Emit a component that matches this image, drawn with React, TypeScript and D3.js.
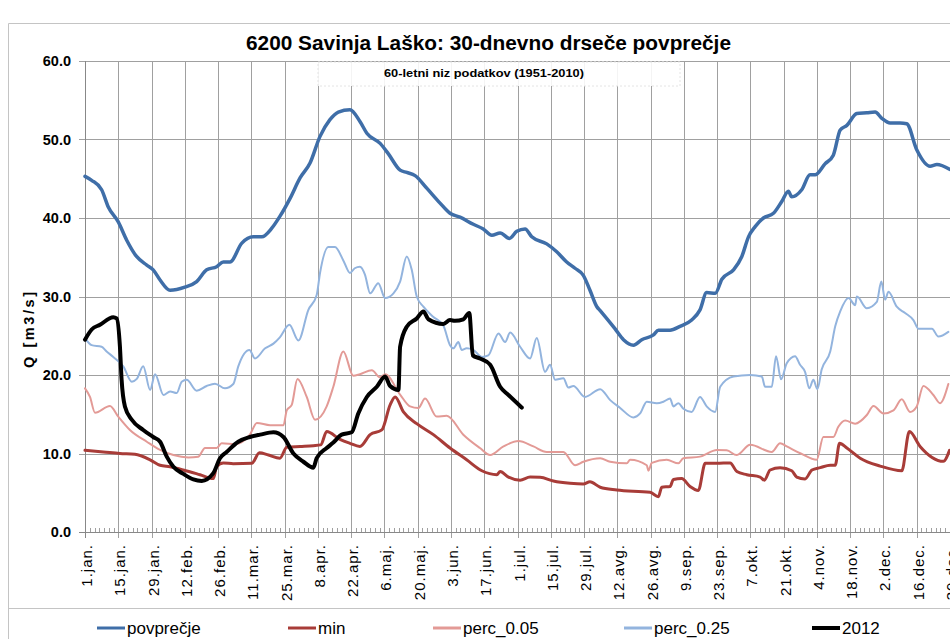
import React from "react";
import * as d3 from "d3";

type Pt = [number, number];

const title = "6200 Savinja Laško: 30-dnevno drseče povprečje";
const subtitle = "60-letni niz podatkov (1951-2010)";
const yTitle = "Q [m3/s]";

const xLabels = [
  "1.jan.", "15.jan.", "29.jan.", "12.feb.", "26.feb.", "11.mar.", "25.mar.",
  "8.apr.", "22.apr.", "6.maj.", "20.maj.", "3.jun.", "17.jun.", "1.jul.",
  "15.jul.", "29.jul.", "12.avg.", "26.avg.", "9.sep.", "23.sep.", "7.okt.",
  "21.okt.", "4.nov.", "18.nov.", "2.dec.", "16.dec.", "30.dec.",
];
const yTicks = [0, 10, 20, 30, 40, 50, 60];

const povprecje: Pt[] = [
  [0,45.3],[2.8,44.8],[7,43.6],[9.8,41.4],[14,39.5],[17.5,37.2],[21.7,35.1],[26,34.0],[28.7,33.4],[31.6,32.1],[35.8,30.8],[42,31.2],[47,31.9],[51.2,33.4],[55.4,33.8],[58.2,34.4],[61,34.4],[66,36.8],[70.8,37.6],[74.4,37.6],[78.6,38.7],[82,40.2],[86.3,42.5],[90.5,45.1],[94.7,47.0],[98.9,50.4],[103,52.5],[106.6,53.5],[111.5,53.8],[115.7,52.3],[118.6,50.8],[124.2,49.5],[127.6,48.2],[132.6,46.1],[135.4,45.8],[138.9,45.4],[143.8,43.8],[149.4,41.9],[153.6,40.6],[157.8,40.1],[163.4,39.2],[167.6,38.6],[171.2,37.8],[174.7,38.1],[178.6,37.4],[181.7,38.3],[185.2,38.6],[188,37.6],[194.3,36.7],[198.5,35.7],[202.7,34.4],[206.2,33.6],[209.7,32.7],[212.5,30.8],[215.4,28.7],[216.8,28.2],[223,25.9],[226.6,24.5],[230.8,23.8],[234.3,24.5],[239.2,25.1],[241.3,25.7],[246.2,25.7],[250.4,26.2],[255.3,27.0],[258.8,28.3],[261.6,30.5],[265.2,30.4],[268,32.2],[272.9,33.4],[276.4,35.1],[279.2,37.6],[282,38.9],[285.5,40.0],[289.7,40.6],[293.2,42.1],[296,43.4],[297.4,42.7],[301.6,43.6],[305.1,45.5],[307.2,45.5],[311.4,46.9],[314.9,48.0],[317.8,51.2],[320.6,51.8],[324.8,53.3],[329,53.4],[332.5,53.5],[335.3,52.7],[338.8,52.1],[343,52.1],[345.8,52.0],[350,48.7],[355.6,46.6],[358.5,46.8],[363.8,46.2],
];

const minimum: Pt[] = [
  [0,10.4],[7.7,10.2],[14.7,10.0],[21,9.9],[27.4,9.2],[31.6,8.5],[35.8,8.3],[41.4,7.9],[48.4,7.3],[54,6.8],[55.4,8.3],[58.2,8.8],[62.4,8.7],[70.2,8.75],[73.4,10.1],[77.2,9.8],[82,9.4],[84.9,10.8],[90.5,10.9],[96.1,11.0],[99.2,11.1],[101.7,12.8],[107.3,11.8],[111.5,11.3],[115.7,10.9],[120,12.4],[124.9,13.0],[128.4,16.2],[130.5,17.2],[134,15.3],[139.6,13.8],[146.6,12.4],[153.6,10.7],[160.6,9.2],[167,7.8],[173.3,7.3],[174.7,7.7],[178.2,7.0],[183.1,6.6],[187.3,7.0],[191.5,6.97],[197.1,6.5],[204.1,6.2],[209.7,6.1],[212.5,6.4],[216.8,5.7],[223.8,5.35],[237.8,5.05],[241.3,4.5],[242.7,5.7],[246.2,5.8],[247.6,6.7],[251.1,6.8],[254.6,5.8],[258.1,5.3],[261,8.75],[265.9,8.75],[271.5,8.8],[274.3,7.7],[278.5,7.3],[284.1,7.0],[285.9,6.6],[288.3,7.9],[292.5,8.2],[297.4,7.8],[299.5,7.0],[303,6.75],[305.9,7.9],[309.4,8.2],[313.6,8.5],[315.7,8.5],[317.5,11.3],[320.6,10.7],[326.2,9.4],[334.6,8.4],[343.7,7.8],[346.9,12.8],[351.4,10.9],[361.2,9.0],[363.8,10.4],
];

const perc005: Pt[] = [
  [0,18.3],[2.1,17.2],[4.2,15.2],[10.5,16.05],[14,14.7],[18.9,13.0],[26,11.5],[31.6,10.45],[37.2,9.8],[43.5,9.5],[47.7,9.6],[50.5,10.7],[55.4,10.7],[57.5,11.3],[63.1,11.2],[69.4,12.4],[72.3,13.9],[77.9,13.6],[83.5,13.6],[84.9,15.5],[87,16.2],[89.4,19.5],[93.3,17.2],[96.8,14.3],[101.7,16.0],[104.5,18.5],[108.7,23.0],[112.9,19.9],[115.7,20.1],[120.7,20.6],[124.2,19.7],[126.3,20.1],[132.6,17.5],[136.8,16.0],[140.3,15.8],[143.1,17.0],[148,14.7],[152.2,14.8],[159.2,12.4],[166.2,10.7],[170.5,9.8],[176.1,10.9],[182.4,11.6],[188.7,10.9],[194.3,10.2],[201.3,10.2],[206.2,8.5],[209.7,8.95],[216.8,9.4],[221,8.95],[228,8.75],[229.4,9.2],[236.4,8.5],[237.1,7.8],[238.5,8.8],[244.8,9.2],[249.7,8.75],[251.8,9.4],[258.8,9.6],[265.9,10.45],[270,10.4],[274.3,9.8],[279.9,11.1],[289,10.2],[292.5,11.3],[295.3,10.9],[301.2,10.0],[307.9,9.2],[310.7,12.1],[314.9,12.1],[317,13.4],[319.9,14.2],[324.1,13.8],[329,14.9],[331.8,16.05],[336,15.1],[340.2,15.5],[343.7,16.9],[347.2,15.3],[350,16.0],[352.8,18.6],[357,17.45],[359.8,16.4],[363.3,18.85],
];

const perc025: Pt[] = [
  [0,24.7],[2.8,23.8],[7,23.6],[9.1,23.0],[11.9,22.3],[16.1,21.1],[19.7,19.15],[21.8,19.5],[24.5,21.1],[27.4,18.1],[29.5,20.1],[33,17.45],[35.8,17.9],[38.6,17.7],[40.7,19.15],[42.8,19.4],[47,18.0],[51.2,18.6],[54.7,18.9],[58.9,18.3],[62.4,18.85],[64.5,21.1],[69.2,23.2],[71.5,22.1],[75.8,23.4],[79.3,24.0],[82,24.8],[86,26.4],[89.8,24.4],[94,28.3],[97.5,30.2],[98.9,33.0],[102.4,36.3],[105.2,36.3],[108.7,34.6],[111.5,33.0],[113.5,33.6],[115.7,33.8],[117.8,32.8],[120,30.4],[123.4,31.7],[126.3,29.8],[129.8,30.4],[132.6,31.9],[135.4,35.1],[137.5,33.4],[139.6,30.0],[142.4,28.7],[146.6,27.4],[150.8,26.3],[153.6,23.8],[155,23.4],[157.1,24.2],[158.5,23.2],[160.6,23.4],[163.4,23.2],[167,22.3],[169.7,22.5],[174,25.3],[176.8,24.2],[178.9,25.4],[183.1,23.6],[187.3,22.1],[190.1,24.7],[193.6,20.4],[195.7,21.3],[197.8,19.4],[201.3,19.6],[203.4,18.4],[205.5,18.6],[210.4,17.2],[216.8,18.2],[221,16.8],[225.2,15.8],[230.8,14.6],[233.6,15.1],[236.4,16.6],[240.6,16.4],[243.4,16.6],[246.2,17.0],[247.6,16.0],[249.7,16.4],[251.8,15.7],[255.3,15.3],[258.8,17.2],[261.6,16.0],[265.2,15.3],[267.3,18.5],[272.9,19.8],[279.9,20.0],[284.8,19.8],[286.2,18.5],[289,18.5],[290.8,22.4],[292.9,19.45],[295.3,21.5],[298.8,22.4],[300.9,21.3],[303,20.4],[304.8,18.3],[306.5,19.4],[308.2,18.2],[310,20.7],[313.6,23.0],[315.7,26.2],[317.8,28.1],[321.3,29.8],[324.1,28.9],[324.8,30.0],[329,28.5],[333.2,29.3],[335.1,31.9],[336.7,29.6],[338.1,30.6],[341.6,28.7],[345.1,27.9],[348.6,27.0],[350.7,25.9],[356.4,25.9],[359.1,24.9],[363.3,25.5],
];

const year2012: Pt[] = [
  [0,24.5],[2.8,25.8],[6.3,26.4],[11.9,27.35],[13.3,27.2],[14.7,23.6],[15.4,19.4],[16.8,16.0],[19.7,14.3],[24.5,13.0],[28.7,12.1],[31.6,11.5],[34.4,9.6],[37.2,8.3],[41.4,7.4],[45.6,6.7],[49.1,6.5],[54,7.5],[56.8,9.4],[59.6,10.2],[64.5,11.5],[69.4,12.1],[73.7,12.4],[79.3,12.7],[83.5,12.1],[87.7,10.0],[91.9,8.95],[96.1,8.2],[97.5,9.4],[101.7,10.7],[104.5,11.4],[108,12.4],[112.2,12.7],[115,15.1],[118.6,17.2],[122.8,18.5],[126.3,19.8],[128.4,18.6],[131.9,18.1],[132.6,23.6],[135.4,26.15],[139.6,27.2],[142.4,28.1],[144.5,27.1],[150.8,26.5],[153.6,27.0],[155.7,26.9],[159.2,27.1],[161.7,27.9],[163.2,22.5],[166.2,22.1],[170.5,21.3],[174.7,18.5],[178.2,17.45],[183.8,15.85],
];

const seriesNames = ["povprečje", "min", "perc_0.05", "perc_0.25", "2012"];
const seriesColors = ["#3f6ea8", "#a83c38", "#e39a96", "#93b4de", "#000000"];
const seriesWidths = [3.5, 3, 2, 2, 4];
const seriesData = [povprecje, minimum, perc005, perc025, year2012];
const legendX = [97, 288, 433, 624, 812];

export default function App() {
  const x = d3.scaleLinear().domain([0, 364]).range([85, 950]);
  const y = d3.scaleLinear().domain([0, 60]).range([532, 61]);
  const line = d3
    .line<Pt>()
    .x((d) => x(d[0]))
    .y((d) => y(d[1]))
    .curve(d3.curveMonotoneX);

  const majorDays = xLabels.map((_, i) => i * 14);
  const minorDays = d3.range(0, 366, 2).filter((d) => d % 14 !== 0);
  const grid = "#a0a0a0";
  const font = "'Liberation Sans', Arial, sans-serif";

  return (
    <div style={{ position: "absolute", left: 0, top: 0, width: 950, height: 639, overflow: "hidden", background: "#fff" }}>
      <svg width={950} height={639} style={{ display: "block" }}>
        <rect x={0} y={0} width={950} height={639} fill="#fff" />
        {/* chart border */}
        <line x1={8.5} y1={23.5} x2={950} y2={23.5} stroke="#c4c4c4" />
        <line x1={8.5} y1={23.5} x2={8.5} y2={639} stroke="#c4c4c4" />
        <line x1={8.5} y1={608.5} x2={950} y2={608.5} stroke="#c4c4c4" />

        {/* horizontal gridlines */}
        {yTicks.map((t) => (
          <line key={"h" + t} x1={79} x2={950} y1={Math.round(y(t)) + 0.5} y2={Math.round(y(t)) + 0.5} stroke={grid} strokeWidth={1} />
        ))}
        {/* vertical gridlines */}
        {majorDays.map((d) => (
          <line key={"v" + d} x1={Math.round(x(d)) + 0.5} x2={Math.round(x(d)) + 0.5} y1={61} y2={538} stroke={grid} strokeWidth={1} />
        ))}
        {/* minor ticks */}
        {minorDays.map((d) => (
          <line key={"m" + d} x1={Math.round(x(d)) + 0.5} x2={Math.round(x(d)) + 0.5} y1={528} y2={532} stroke={grid} strokeWidth={1} />
        ))}
        <line x1={85.5} x2={85.5} y1={61} y2={538} stroke="#888" />
        <line x1={79} x2={950} y1={532.5} y2={532.5} stroke="#888" />

        {/* subtitle box */}
        <rect x={318} y={62} width={362} height={24} fill="#fff" fillOpacity={0.88} stroke="#e4e4e4" strokeDasharray="2,2" />
        <text x={484} y={77} textAnchor="middle" fontFamily={font} fontWeight="bold" fontSize={11} textLength={200} lengthAdjust="spacingAndGlyphs">
          {subtitle}
        </text>

        {/* title */}
        <text x={488.5} y={50} textAnchor="middle" fontFamily={font} fontWeight="bold" fontSize={20} textLength={485} lengthAdjust="spacingAndGlyphs">
          {title}
        </text>

        {/* y tick labels */}
        {yTicks.map((t) => (
          <text key={"yl" + t} x={71} y={y(t) + 5} textAnchor="end" fontFamily={font} fontWeight="bold" fontSize={14.5}>
            {t.toFixed(1)}
          </text>
        ))}
        {/* y title */}
        <text transform="translate(34,330) rotate(-90)" textAnchor="middle" fontFamily={font} fontWeight="bold" fontSize={14.5} textLength={76} lengthAdjust="spacing">
          {yTitle}
        </text>

        {/* x labels */}
        {xLabels.map((lab, i) => (
          <text key={"xl" + i} transform={`translate(${x(i * 14) + 7},544) rotate(-90)`} textAnchor="end" fontFamily={font} fontSize={15} letterSpacing={1}>
            {lab}
          </text>
        ))}

        {/* series */}
        {seriesData.map((data, i) => (
          <path key={"s" + i} d={line(data) || ""} fill="none" stroke={seriesColors[i]} strokeWidth={seriesWidths[i]} strokeLinejoin="round" strokeLinecap="round" />
        ))}

        {/* legend */}
        {seriesNames.map((n, i) => (
          <g key={"lg" + i}>
            <line x1={legendX[i]} x2={legendX[i] + 28} y1={628} y2={628} stroke={seriesColors[i]} strokeWidth={i === 4 ? 4 : 3} />
            <text x={legendX[i] + 30} y={634} fontFamily={font} fontSize={17}>
              {n}
            </text>
          </g>
        ))}
      </svg>
    </div>
  );
}
